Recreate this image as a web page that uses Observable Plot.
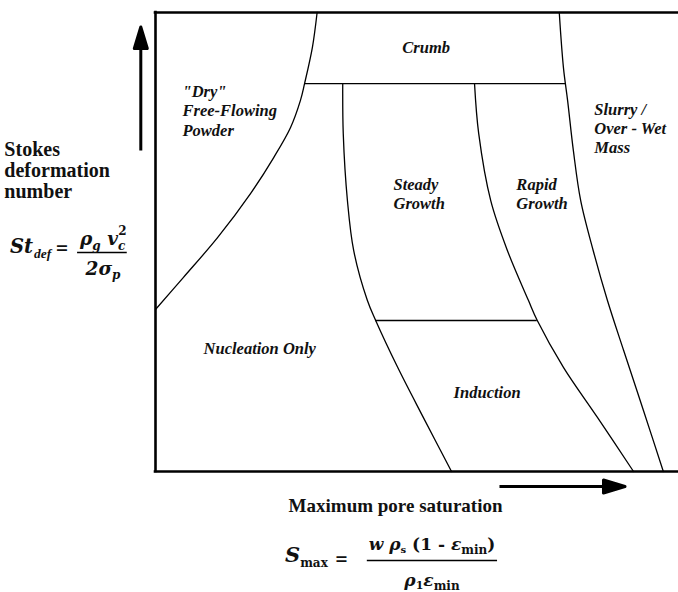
<!DOCTYPE html>
<html>
<head>
<meta charset="utf-8">
<script src="https://cdn.jsdelivr.net/npm/d3@7"></script>
<script src="https://cdn.jsdelivr.net/npm/@observablehq/plot@0.6"></script>
<style>
  html, body { margin: 0; padding: 0; background: #fff; }
  #chart svg { display: block; }
</style>
</head>
<body>
<div id="chart"></div>
<script>
// Granulation regime map. x: maximum pore saturation (relative, 0–100), y: Stokes deformation number (relative, 0–100)
const dryX = [0, 5.35, 11.9, 18.2, 22.6, 25.8, 27.7, 28.5, 30.0, 30.9];
const dryY = [35.3, 42.3, 51.0, 60.6, 68.4, 74.9, 80.8, 84.5, 92.4, 100];
const steadyX = [35.8, 35.9, 36.7, 37.9, 40.5, 42.1, 46.3, 51.2, 56.6];
const steadyY = [84.5, 73.6, 59.0, 48.1, 37.3, 32.9, 22.7, 11.8, 0];
const rapidX = [61.0, 61.8, 64.1, 67.3, 71.3, 73.0, 78.0, 84.5, 91.4];
const rapidY = [84.5, 73.6, 59.0, 48.1, 37.3, 32.9, 22.7, 11.8, 0];
const slurryX = [77.2, 78.0, 78.8, 79.9, 81.3, 83.7, 86.4, 89.5, 93.3, 97.1];
const slurryY = [100, 88.0, 80.8, 69.9, 59.0, 48.1, 37.3, 26.4, 13.3, 0];
const crumbLevel = 84.5;
const crumbSpan = [28.5, 78.4];
const inductionLevel = 32.9;
const inductionSpan = [42.1, 73.0];

// Regime labels
const regionNames = ["\"Dry\"\nFree-Flowing\nPowder", "Crumb", "Steady\nGrowth", "Rapid\nGrowth",
  "Slurry /\nOver - Wet\nMass", "Nucleation Only", "Induction"];
const regionX = [5.16, 47.2, 45.5, 69.0, 83.9, 9.2, 57.0];
const regionY = [73.2, 91.1, 57.1, 57.1, 69.3, 25.7, 16.1];

// Axis titles
const yTitle = "Stokes\ndeformation\nnumber";
const xTitle = "Maximum pore saturation";

const pts = (xs, ys) => xs.map((x, i) => ({x, y: ys[i]}));
const regions = regionNames.map((name, i) => ({name, x: regionX[i], y: regionY[i]}));

const labelFont = "'Liberation Serif', 'Times New Roman', serif";
const mathFont = "'DejaVu Serif', serif";

const arrowShape = {
  draw(context, l) {
    const h = 21.5, w = 6.5;
    context.moveTo(0, 0);
    context.lineTo(0, -l + h);
    context.moveTo(0, -l);
    context.lineTo(w, -l + h);
    context.lineTo(-w, -l + h);
    context.closePath();
  }
};
const arrowStyle = {shape: arrowShape, stroke: "#000", fill: "#000", strokeWidth: 3,
  strokeLinejoin: "round", strokeLinecap: "butt", anchor: "start"};

const boundary = {stroke: "#000", strokeWidth: 1.3, curve: "catmull-rom"};

const chart = Plot.plot({
  width: 678,
  height: 592,
  marginLeft: 155,
  marginRight: 0,
  marginTop: 12,
  marginBottom: 121,
  x: {domain: [0, 100], axis: null},
  y: {domain: [0, 100], axis: null},
  style: {background: "#fff", overflow: "visible"},
  marks: [
    Plot.line(pts(dryX, dryY), {x: "x", y: "y", ...boundary}),
    Plot.line(pts(steadyX, steadyY), {x: "x", y: "y", ...boundary}),
    Plot.line(pts(rapidX, rapidY), {x: "x", y: "y", ...boundary}),
    Plot.line(pts(slurryX, slurryY), {x: "x", y: "y", ...boundary}),
    Plot.ruleY([crumbLevel], {x1: crumbSpan[0], x2: crumbSpan[1], stroke: "#000", strokeWidth: 1.3}),
    Plot.ruleY([inductionLevel], {x1: inductionSpan[0], x2: inductionSpan[1], stroke: "#000", strokeWidth: 1.3}),
    Plot.ruleY([0, 100], {stroke: "#000", strokeWidth: 2.6, strokeLinecap: "square"}),
    Plot.ruleX([0], {stroke: "#000", strokeWidth: 2.6, strokeLinecap: "square"}),
    Plot.text(regions, {x: "x", y: "y", text: "name", textAnchor: "start", lineAnchor: "bottom",
      lineHeight: 1.17, fontFamily: labelFont, fontWeight: "bold", fontStyle: "italic", fontSize: 16.5, fill: "#111"}),
    Plot.text([yTitle], {x: -28.9, y: 59.5, text: d => d, textAnchor: "start", lineAnchor: "bottom",
      lineHeight: 1.05, fontFamily: labelFont, fontWeight: "bold", fontSize: 20, fill: "#111"}),
    Plot.text([xTitle], {x: 45.9, y: -8.93, text: d => d, textAnchor: "middle", lineAnchor: "bottom",
      fontFamily: labelFont, fontWeight: "bold", fontSize: 19, fill: "#111"}),
    Plot.vector([{x: -2.81, y: 69.93, r: 0}], {x: "x", y: "y", rotate: "r", length: 123.5, ...arrowStyle}),
    Plot.vector([{x: 65.77, y: -3.27, r: 90}], {x: "x", y: "y", rotate: "r", length: 125.5, ...arrowStyle}),
    // fraction bars of the two formulas
    Plot.ruleY([47.71], {x1: -14.9, x2: -5.4, stroke: "#000", strokeWidth: 1.6}),
    Plot.ruleY([-19.39], {x1: 40.5, x2: 65.4, stroke: "#000", strokeWidth: 1.6})
  ]
});

document.getElementById("chart").appendChild(chart);

// Formulas drawn as SVG text with sub/superscripts, anchored on the fraction bars
const sx = chart.scale("x").apply, sy = chart.scale("y").apply;
const svg = d3.select(chart);
function formula(cx, cy, parts) {
  const g = svg.append("g").attr("transform", `translate(${sx(cx)},${sy(cy)})`)
    .attr("font-family", mathFont).attr("font-weight", "bold").attr("fill", "#111");
  for (const p of parts) {
    const t = g.append("text").attr("x", p.dx).attr("y", p.dy)
      .attr("font-size", p.size).attr("text-anchor", p.anchor || "start")
      .attr("font-style", "italic");
    for (const s of p.spans) {
      const ts = t.append("tspan").text(s.t);
      if (s.size) ts.attr("font-size", s.size);
      if (s.shift) ts.attr("dy", s.shift);
      if (s.dx) ts.attr("dx", s.dx);
      if (s.upright) ts.attr("font-style", "normal");
      if (s.font) ts.attr("font-family", s.font);
    }
  }
}

// St_def = rho_g v_c^2 / (2 sigma_p)
formula(-9.94, 47.71, [
  {dx: -93, dy: 1, size: 19.5, spans: [{t: "St"}, {t: "def", size: 13.5, shift: 5, dx: 1, font: labelFont},
    {t: "=", size: 16, shift: -5, dx: 4, upright: true}]},
  {dx: -23, dy: -7, size: 18.5, spans: [{t: "ρ"}, {t: "g", size: 12, shift: 5},
    {t: " v", shift: -5}, {t: "c", size: 12, shift: 5}, {t: "2", size: 12, shift: -15, dx: -7, upright: true}]},
  {dx: 0, dy: 23, size: 18.5, anchor: "middle", spans: [{t: "2σ"}, {t: "p", size: 12, shift: 4}]}
]);

// S_max = w rho_s (1 - eps_min) / (rho_l eps_min)
formula(52.96, -19.39, [
  {dx: -147, dy: 2, size: 21, spans: [{t: "S"}, {t: "max", size: 12, shift: 5, upright: true},
    {t: "=", size: 16, shift: -3, dx: 7, upright: true}]},
  {dx: 0, dy: -10, size: 17, anchor: "middle", spans: [
    {t: "w ρ"}, {t: "s", size: 10, shift: 3, upright: true}, {t: " (1 - ", shift: -3, upright: true},
    {t: "ε"}, {t: "min", size: 12, shift: 4, upright: true}, {t: ")", shift: -4, upright: true}]},
  {dx: 0, dy: 26, size: 17, anchor: "middle", spans: [
    {t: "ρ"}, {t: "1", size: 11, shift: 3, upright: true}, {t: "ε", shift: -3}, {t: "min", size: 12, shift: 4, upright: true}]}
]);
</script>
</body>
</html>
